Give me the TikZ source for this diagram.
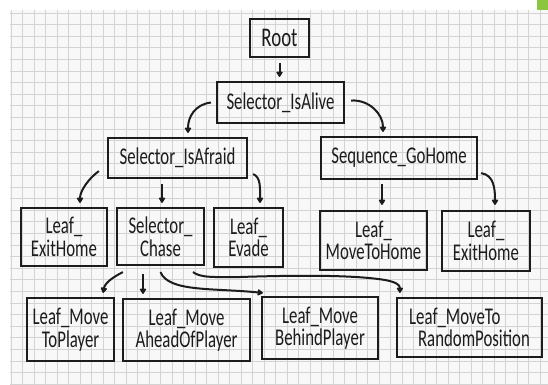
\documentclass[tikz,border=0pt]{standalone}
\usepackage{fontspec}
\setmainfont{Carlito}[FakeStretch=0.7]
\usetikzlibrary{arrows.meta}
\definecolor{ink}{HTML}{1C1C1C}
\definecolor{gridline}{HTML}{D3D3D3}
\definecolor{paper}{HTML}{F8F8F8}
\definecolor{tabgreen}{HTML}{8CC63F}
\tikzset{
  box/.style={draw=ink, line width=2.2pt, text=ink, align=center, inner sep=0pt,
    font=\fontsize{24}{22.5}\selectfont},
  arr/.style={draw=ink, line width=2pt, -{Triangle[length=6pt,width=7pt,round]}},
  gridln/.style={draw=gridline, line width=1pt}
}
\begin{document}
\begin{tikzpicture}[x=1pt,y=-1pt]
\useasboundingbox (0,0) rectangle (548,384);
\fill[paper] (10,10) rectangle (548,384);
\foreach \i in {0,...,46} \draw[gridln] ({11+11.5*\i},10) -- ({11+11.5*\i},384);
\foreach \j in {0,...,32} \draw[gridln] (10,{13+11.6*\j}) -- (548,{13+11.6*\j});
\fill[tabgreen] (537,0) rectangle (548,10);

\node[box, minimum width=59pt, minimum height=38pt, font=\fontsize{27}{22}\selectfont] (root) at (279.5,38) {Root};
\node[box, minimum width=127pt, minimum height=41pt] (isalive) at (280.5,102.5) {Selector\_IsAlive};
\node[box, minimum width=139pt, minimum height=40pt] (isafraid) at (177.5,158) {Selector\_IsAfraid};
\node[box, minimum width=156pt, minimum height=42pt] (gohome) at (399,158) {Sequence\_GoHome};
\node[box, minimum width=86pt, minimum height=58pt] (exitl) at (64,237) {Leaf\_\\ExitHome};
\node[box, minimum width=87pt, minimum height=57pt] (chase) at (160.5,236.5) {Selector\_\\Chase};
\node[box, minimum width=69pt, minimum height=59pt] (evade) at (248.5,237.5) {Leaf\_\\Evade};
\node[box, minimum width=107pt, minimum height=59pt] (tohome) at (373.5,240.5) {Leaf\_\\MoveToHome};
\node[box, minimum width=88pt, minimum height=60pt] (exitr) at (486,241) {Leaf\_\\ExitHome};
\node[box, minimum width=87pt, minimum height=63pt] (toplayer) at (70.5,329.5) {Leaf\_Move\\ToPlayer};
\node[box, minimum width=127pt, minimum height=62pt] (ahead) at (186.5,330) {Leaf\_Move\\AheadOfPlayer};
\node[box, minimum width=116pt, minimum height=62pt] (behind) at (320,328) {Leaf\_Move\\BehindPlayer};
\node[box, minimum width=145pt, minimum height=59pt, align=left] (random) at (469.5,327.5) {Leaf\_MoveTo\\\hspace*{9pt}RandomPosition};

\draw[arr, shorten <=5pt, shorten >=4pt] (root.south) -- (root.south |- isalive.north);
\draw[arr] ([xshift=-5pt]isalive.west) .. controls +(-16,2) and +(0,-16) .. ([xshift=10.5pt,yshift=4pt]isafraid.north);
\draw[arr] ([xshift=6pt,yshift=2pt]isalive.east) .. controls +(18,-1) and +(0,-18) .. ([xshift=-16pt,yshift=4pt]gohome.north);
\draw[arr] ([xshift=-8pt,yshift=8pt]isafraid.south west) .. controls +(-10,7) and +(0,-12) .. ([xshift=16pt,yshift=4pt]exitl.north);
\draw[arr] ([xshift=-15.5pt,yshift=-5pt]isafraid.south) -- ([xshift=1.5pt,yshift=4pt]chase.north);
\draw[arr] ([xshift=5pt,yshift=5pt]isafraid.south east) .. controls +(8,3) and +(0,-14) .. ([xshift=11.5pt,yshift=4pt]evade.north);
\draw[arr] ([xshift=-17pt,yshift=-4pt]gohome.south) -- ([xshift=8.5pt,yshift=5pt]tohome.north);
\draw[arr] ([xshift=3pt,yshift=7pt]gohome.south east) .. controls +(13,2) and +(0,-16) .. ([xshift=9pt,yshift=5pt]exitr.north);
\draw[arr] ([xshift=7pt,yshift=-6pt]chase.south west) .. controls +(-10,5) and +(2,-10) .. ([xshift=32.5pt,yshift=4pt]toplayer.north);
\draw[arr] ([xshift=-17.5pt,yshift=-8pt]chase.south) -- ([xshift=-43.5pt,yshift=4pt]ahead.north);
\draw[arr] ([yshift=-6pt]chase.south) .. controls +(8,20) and +(-50,-5) .. ([xshift=2pt,yshift=3pt]behind.north west);
\draw[arr] ([xshift=32.5pt,yshift=-6pt]chase.south) .. controls +(8,6) and (215,277) .. (240,277)
  .. controls (300,275) and (355,275) .. (385,280)
  .. controls (396,282) and ([xshift=4pt,yshift=12pt]random.north west) .. ([xshift=4pt,yshift=4pt]random.north west);
\end{tikzpicture}
\end{document}
